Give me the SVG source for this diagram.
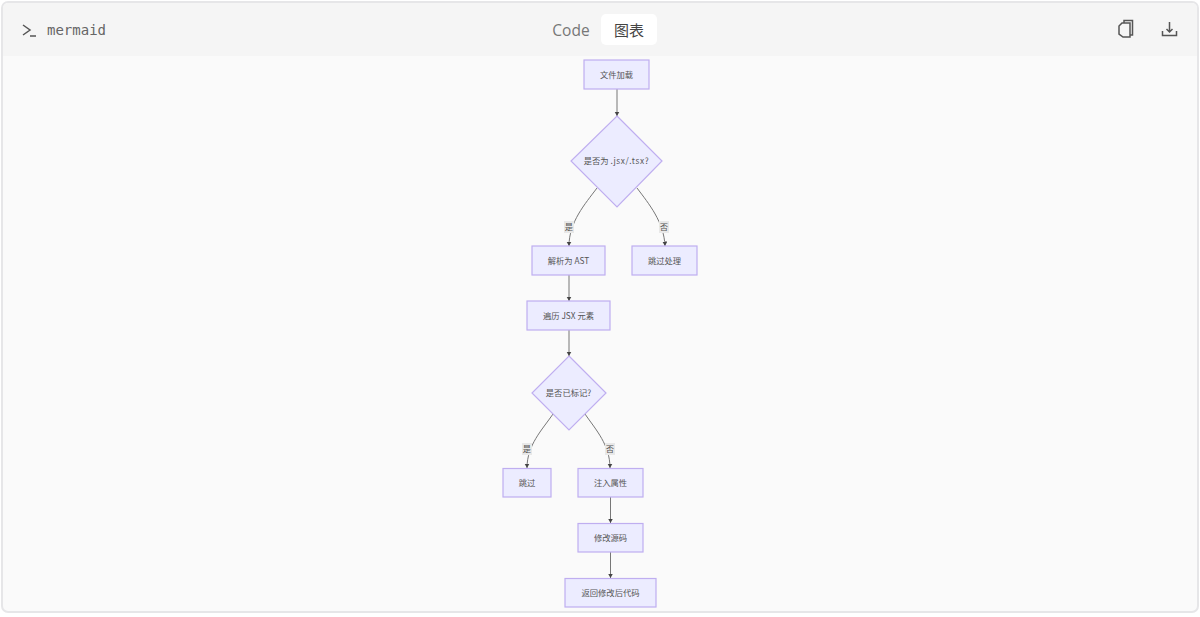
<svg xmlns="http://www.w3.org/2000/svg" width="1200" height="617" viewBox="0 0 1200 617">
<style>
.n{fill:#ececff;stroke:#bfaef0;stroke-width:1.2}
.t{font-family:"Noto Sans CJK SC",sans-serif;font-size:8.3px;fill:#555;text-anchor:middle}
.e{fill:none;stroke:#777;stroke-width:1;marker-end:url(#a)}
.l{fill:#e8e8e8}
.i{fill:none;stroke:#555;stroke-width:1.5}
</style>
<defs><marker id="a" markerUnits="userSpaceOnUse" markerWidth="6" markerHeight="6" refX="4.500" refY="2.500" orient="auto"><path d="M0 0L4.500 2.500L0 5z" fill="#444"/></marker></defs>
<rect width="1200" height="617" fill="#fff"/>
<rect x="2" y="2" width="1196" height="610" rx="6" fill="#fafafa" stroke="#e6e6e8" stroke-width="2"/>
<path d="M3 56V8a5 5 0 0 1 5-5H1192a5 5 0 0 1 5 5V56z" fill="#f5f5f5"/>
<path class="i" d="M23 25l7 5-7 5M30 36h6"/>
<text x="47" y="35" font-family="'DejaVu Sans Mono',monospace" font-size="14" fill="#666">mermaid</text>
<text x="571" y="36" font-family="'Open Sans',sans-serif" font-size="15.500" fill="#777" text-anchor="middle">Code</text>
<rect x="601" y="14" width="56" height="31" rx="5" fill="#fff"/>
<text x="629" y="36" font-family="'Noto Sans CJK SC',sans-serif" font-size="15" fill="#444" text-anchor="middle">图表</text>
<path class="i" d="M1122 23h8v14h-7l-4-3v-8zM1124 23v-2.500h8.500v14.500h-2"/>
<path class="i" d="M1169.500 22v9M1166.500 29l3 3 3-3M1162.500 31v4.500h14V31"/>
<g id="connectors">
<path class="e" d="M617 89V116"/>
<path class="e" d="M597 188C585 204 569 222 569 246"/>
<path class="e" d="M637 188C649 204 664 222 665 246"/>
<path class="e" d="M569 275V301"/>
<path class="e" d="M569 330V356"/>
<path class="e" d="M553 414C542 430 527 445 527 468"/>
<path class="e" d="M585 414C596 430 610 445 610 468"/>
<path class="e" d="M610.500 497V523"/>
<path class="e" d="M610.500 552V578"/>
<rect class="l" x="564" y="221" width="10" height="12"/><text class="t" x="569" y="230">是</text>
<rect class="l" x="659" y="221" width="10" height="12"/><text class="t" x="664" y="230">否</text>
<rect class="l" x="522" y="443" width="10" height="12"/><text class="t" x="527" y="452">是</text>
<rect class="l" x="605" y="443" width="10" height="12"/><text class="t" x="610" y="452">否</text>
</g>
<g id="n1"><rect class="n" x="584" y="60" width="65" height="29"/><text class="t" x="616.500" y="78">文件加载</text></g>
<g id="n2"><path class="n" d="M617 116L662 161L617 207L571 161z"/><text class="t" x="616.500" y="164">是否为 <tspan letter-spacing=".6">.jsx/.tsx?</tspan></text></g>
<g id="n3"><rect class="n" x="532" y="246" width="73" height="29"/><text class="t" x="568.500" y="263.500">解析为 AST</text></g>
<g id="n4"><rect class="n" x="632" y="246" width="65" height="29"/><text class="t" x="664.500" y="263.500">跳过处理</text></g>
<g id="n5"><rect class="n" x="527" y="301" width="83" height="29"/><text class="t" x="568.500" y="318.500">遍历 JSX 元素</text></g>
<g id="n6"><path class="n" d="M569 356L606 393L569 430L532 393z"/><text class="t" x="568.500" y="396">是否已标记?</text></g>
<g id="n7"><rect class="n" x="503" y="468.500" width="48" height="28.500"/><text class="t" x="527" y="486">跳过</text></g>
<g id="n8"><rect class="n" x="578" y="468.500" width="65" height="28.500"/><text class="t" x="610.500" y="486">注入属性</text></g>
<g id="n9"><rect class="n" x="578" y="523.500" width="65" height="28.500"/><text class="t" x="610.500" y="541">修改源码</text></g>
<g id="n10"><rect class="n" x="565" y="578.500" width="91" height="28.500"/><text class="t" x="610.500" y="596">返回修改后代码</text></g>
</svg>
